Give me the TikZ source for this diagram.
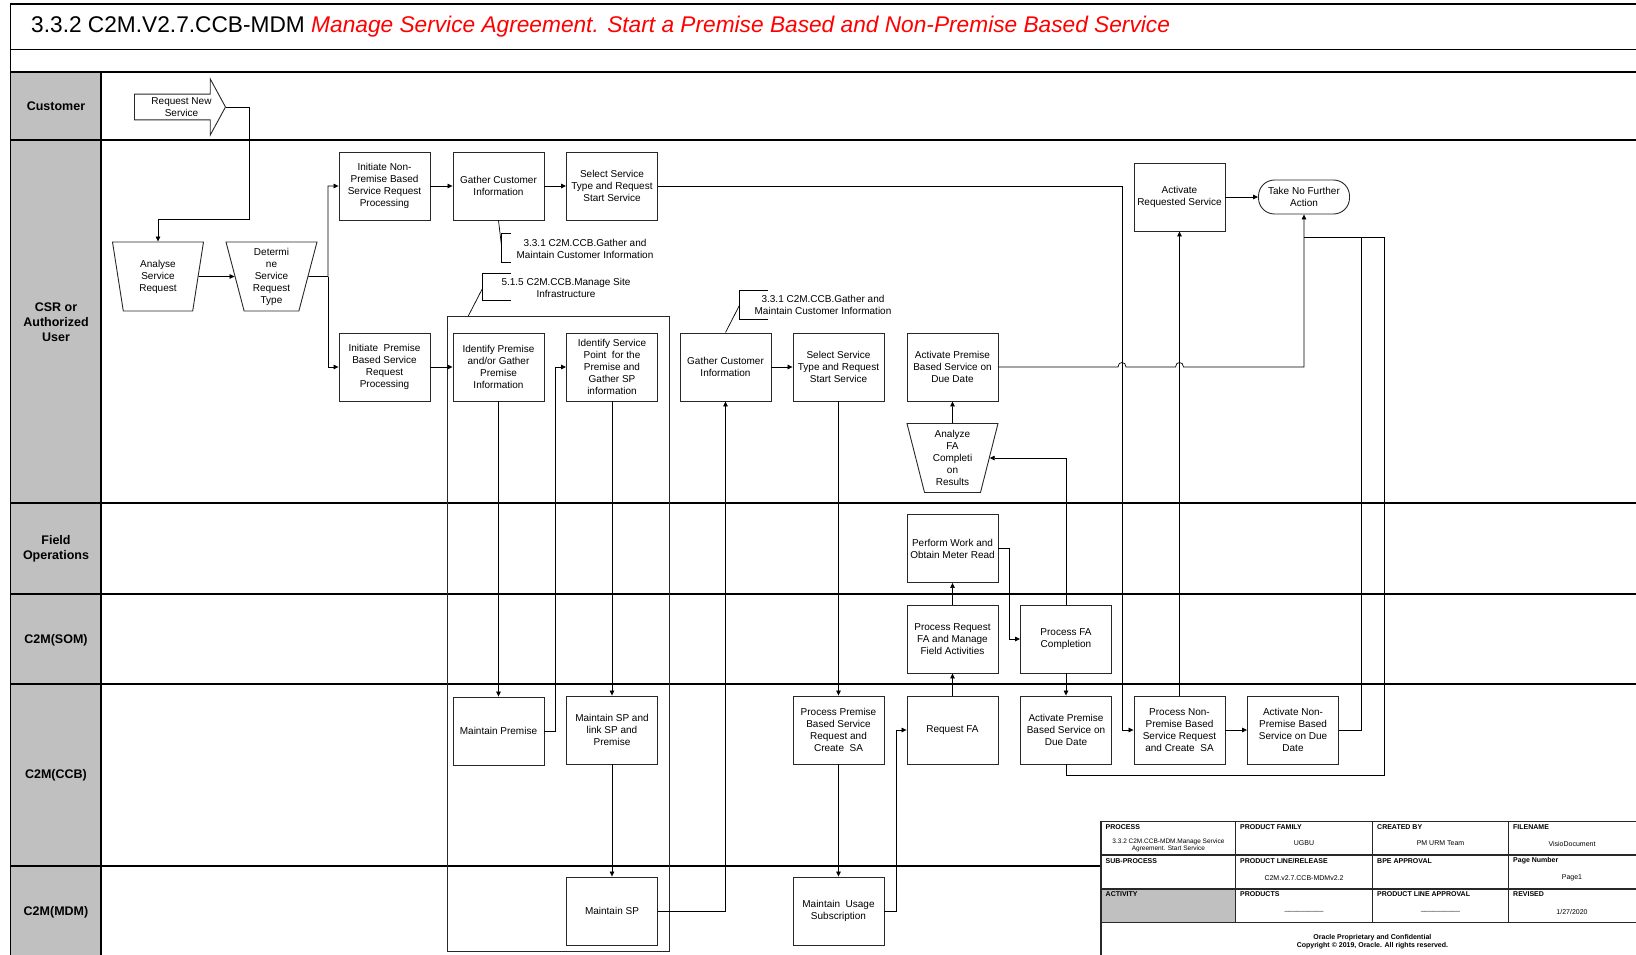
\documentclass[tikz,border=0pt]{standalone}
\usepackage{fontspec}
\setmainfont{Liberation Sans}
\usepackage{tikz}
\usetikzlibrary{shapes.geometric,shapes.arrows,arrows.meta}
\usepackage{xcolor}
\definecolor{lanegray}{RGB}{192,192,192}
\definecolor{boxline}{RGB}{40,40,40}

\begin{document}
\begin{tikzpicture}[x=1pt,y=-1pt,
  task/.style={draw=boxline,line width=.9pt,fill=white,minimum width=91pt,minimum height=68pt,inner sep=2pt,align=center,font=\fontsize{10}{12}\selectfont},
  decide/.style={trapezium,shape border rotate=180,trapezium angle=73,trapezium stretches body,draw=boxline,line width=.9pt,fill=white,minimum width=91pt,minimum height=69pt,inner sep=1pt,align=center,font=\fontsize{10}{12}\selectfont},
  flow/.style={line width=.7pt,-{Triangle[length=5pt,width=4.5pt]}},
  link/.style={line width=.7pt},
  lane/.style={align=center,font=\fontsize{12.5}{15}\bfseries\selectfont},
  note/.style={align=center,font=\fontsize{10}{12}\selectfont},
  head/.style={anchor=west,inner sep=0pt,font=\fontsize{7}{8}\bfseries\selectfont},
  val/.style={align=center,inner sep=0pt,font=\fontsize{7}{8}\selectfont}]
\useasboundingbox (0,0) rectangle (1636,955);
\fill[lanegray] (10.5,72) rectangle (101,955);
\draw[line width=1.2pt] (1636,4) -- (10.5,4) -- (10.5,955);
\draw[line width=1.2pt] (10.5,49.5) -- (1636,49.5);
\draw[line width=1.2pt] (10.5,72) -- (1636,72);
\draw[line width=1.2pt] (101,72) -- (101,955);
\draw[line width=1.2pt] (10.5,140) -- (1636,140);
\draw[line width=1.2pt] (10.5,503) -- (1636,503);
\draw[line width=1.2pt] (10.5,594) -- (1636,594);
\draw[line width=1.2pt] (10.5,684) -- (1636,684);
\draw[line width=1.2pt] (10.5,866) -- (1101,866);
\node[anchor=west,inner sep=0pt,font=\fontsize{22.7}{26}\selectfont] (title) at (31,27) {3.3.2 C2M.V2.7.CCB-MDM \textcolor{red}{\itshape Manage Service Agreement. Start a Premise Based and Non-Premise Based Service}};
\node[lane] (lcust) at (56,106) {Customer};
\node[lane] (lcsr) at (56,321.7) {CSR or\\Authorized\\User};
\node[lane] (lfield) at (56,549) {Field\\Operations};
\node[lane] (lsom) at (56,640) {C2M(SOM)};
\node[lane] (lccb) at (56,775) {C2M(CCB)};
\node[lane] (lmdm) at (56,912) {C2M(MDM)};
\node[draw=boxline,line width=.9pt,minimum width=221.5pt,minimum height=635pt,inner sep=0pt] (site) at (558.25,633.5) {};
\node[single arrow,draw=boxline,line width=.9pt,fill=white,single arrow head extend=14pt,single arrow tip angle=123,minimum height=91pt,minimum width=56pt,inner sep=2pt,align=center,font=\fontsize{10}{12}\selectfont,anchor=tip] (reqnew) at (226,107) {\hspace*{10pt}Request New\\\hspace*{10pt}Service};
\node[decide] (analyse) at (158,276.5) {Analyse\\Service\\Request};
\node[decide] (determine) at (271.5,276.5) {Determi\\ne\\Service\\Request\\Type};
\node[task] (initnp) at (384.5,186) {Initiate Non-\\Premise Based\\Service Request\\Processing};
\node[task] (gathcust) at (498.5,186) {Gather Customer\\Information};
\node[task] (selsvc) at (612,186) {Select Service\\Type and Request\\Start Service};
\node[task] (initprem) at (384.5,367) {Initiate~ Premise\\Based Service\\Request\\Processing};
\node[task] (idprem) at (498.5,367) {Identify Premise\\and/or Gather\\Premise\\Information};
\node[task] (idsp) at (612,367) {Identify Service\\Point~ for the\\Premise and\\Gather SP\\information};
\node[task] (gathcust2) at (725.5,367) {Gather Customer\\Information};
\node[task] (selsvc2) at (838.5,367) {Select Service\\Type and Request\\Start Service};
\node[task] (actprem) at (952.5,367) {Activate Premise\\Based Service on\\Due Date};
\node[decide] (anlfa) at (952.5,458) {Analyze\\FA\\Completi\\on\\Results};
\node[task] (perform) at (952.5,548.5) {Perform Work and\\Obtain Meter Read};
\node[task] (procreq) at (952.5,639) {Process Request\\FA and Manage\\Field Activities};
\node[task] (procfa) at (1066,639) {Process FA\\Completion};
\node[task] (mprem) at (498.5,731) {Maintain Premise};
\node[task] (mlink) at (612,730) {Maintain SP and\\link SP and\\Premise};
\node[task] (msp) at (612,911) {Maintain SP};
\node[task] (procprem) at (838.5,730) {Process Premise\\Based Service\\Request and\\Create~ SA};
\node[task] (musage) at (838.5,911) {Maintain~ Usage\\Subscription};
\node[task] (reqfa) at (952.5,730) {Request FA};
\node[task] (actprem2) at (1066,730) {Activate Premise\\Based Service on\\Due Date};
\node[task] (procnp) at (1179.5,730) {Process Non-\\Premise Based\\Service Request\\and Create~ SA};
\node[task] (actnp) at (1293,730) {Activate Non-\\Premise Based\\Service on Due\\Date};
\node[task] (actreq) at (1179.5,197) {Activate\\Requested Service};
\node[draw=boxline,line width=.9pt,rounded corners=16pt,minimum width=91pt,minimum height=34pt,inner sep=2pt,align=center,font=\fontsize{10}{12}\selectfont] (nofurther) at (1304,197) {Take No Further\\Action};
\node[note] (noteA) at (585,248.5) {3.3.1 C2M.CCB.Gather and\\Maintain Customer Information};
\draw[link] (511,233) -- (501.7,233) -- (501.7,262) -- (511,262);
\draw[link] (gathcust.south) -- (501.7,247.5);
\node[note] (noteB) at (566,287.5) {5.1.5 C2M.CCB.Manage Site\\Infrastructure};
\draw[link] (511,273) -- (482.7,273) -- (482.7,300.7) -- (511,300.7);
\coordinate (sitetop) at (468.3,316);
\draw[link] (482.7,288) -- (sitetop);
\node[note] (noteC) at (823,304.5) {3.3.1 C2M.CCB.Gather and\\Maintain Customer Information};
\draw[link] (767.5,290) -- (739.6,290) -- (739.6,319) -- (767.5,319);
\draw[link] (739.6,305) -- (gathcust2.north);
\draw[flow] (reqnew.tip) -- (249,107) -- (249,219) -| (analyse.north);
\draw[flow] (analyse.east) -- (determine.west);
\draw[flow] (determine.east) -- (328,276.5) |- (initnp.west);
\draw[flow] (328,276.5) |- (initprem.west);
\draw[flow] (initnp) -- (gathcust);
\draw[flow] (gathcust) -- (selsvc);
\draw[flow] (selsvc.east) -- (1122,186) |- (procnp.west);
\draw[flow] (initprem) -- (idprem);
\draw[flow] (idprem) -- (mprem);
\draw[flow] (mprem.east) -- (555,731) |- (idsp.west);
\draw[flow] (idsp) -- (mlink);
\draw[flow] (mlink) -- (msp);
\draw[flow] (msp.east) -| (gathcust2.south);
\draw[flow] (gathcust2) -- (selsvc2);
\draw[flow] (selsvc2) -- (procprem);
\draw[flow] (procprem) -- (musage);
\draw[flow] (musage.east) -- (896,911) |- (reqfa.west);
\draw[flow] (reqfa) -- (procreq);
\draw[flow] (procreq) -- (perform);
\draw[flow] (perform.east) -- (1009,548.5) |- (procfa.west);
\draw[flow] (procfa.north) |- (anlfa.east);
\draw[flow] (anlfa) -- (actprem);
\draw[flow] (procfa) -- (actprem2);
\draw[flow] (procnp) -- (actnp);
\draw[flow] (procnp) -- (actreq);
\draw[flow] (actreq) -- (nofurther);
\draw[flow] (actprem.east) -- (1118,367) .. controls (1118,361) and (1126,361) .. (1126,367) -- (1175.5,367) .. controls (1175.5,361) and (1183.5,361) .. (1183.5,367) -- (1304,367) -- (nofurther.south);
\draw[link] (actprem2.south) -- (1066,775) -- (1384,775) -- (1384,237) -- (1304,237);
\draw[link] (actnp.east) -- (1361,730) -- (1361,237);
\fill[lanegray] (1101,889) rectangle (1235.7,922.3);
\draw[line width=1.1pt,boxline] (1636,821.7) -- (1101,821.7) -- (1101,955);
\draw[line width=1.1pt,boxline] (1101,855) -- (1636,855);
\draw[line width=1.1pt,boxline] (1101,889) -- (1636,889);
\draw[line width=1.1pt,boxline] (1101,922.3) -- (1636,922.3);
\draw[line width=1.1pt,boxline] (1235.7,821.7) -- (1235.7,922.3);
\draw[line width=1.1pt,boxline] (1372.4,821.7) -- (1372.4,922.3);
\draw[line width=1.1pt,boxline] (1508.7,821.7) -- (1508.7,922.3);
\node[head] (hprocess) at (1105.5,827) {PROCESS};
\node[head] (hfamily) at (1240,827) {PRODUCT FAMILY};
\node[head] (hcreated) at (1377,827) {CREATED BY};
\node[head] (hfile) at (1513,827) {FILENAME};
\node[head] (hsub) at (1105.5,861) {SUB-PROCESS};
\node[head] (hline) at (1240,861) {PRODUCT LINE/RELEASE};
\node[head] (hbpe) at (1377,861) {BPE APPROVAL};
\node[head] (hpage) at (1513,861) {Page Number};
\node[head] (hact) at (1105.5,894) {ACTIVITY};
\node[head] (hprod) at (1240,894) {PRODUCTS};
\node[head] (hplapp) at (1377,894) {PRODUCT LINE APPROVAL};
\node[head] (hrev) at (1513,894) {REVISED};
\node[val,font=\fontsize{6.5}{7.5}\selectfont] (vprocess) at (1168.4,845.5) {3.3.2 C2M.CCB-MDM.Manage Service\\Agreement. Start Service};
\node[val] (vfamily) at (1304,843.5) {UGBU};
\node[val] (vcreated) at (1440.5,843.5) {PM URM Team};
\node[val] (vfile) at (1572,843.5) {VisioDocument};
\node[val] (vline) at (1304,878) {C2M.v2.7.CCB-MDMv2.2};
\node[val] (vpage) at (1572,878) {Page1};
\node[val] (vprod) at (1304,911) {\_\_\_\_\_\_\_\_\_\_};
\node[val] (vplapp) at (1440.5,911) {\_\_\_\_\_\_\_\_\_\_};
\node[val] (vrev) at (1572,912) {1/27/2020};
\node[val,font=\fontsize{7}{8}\bfseries\selectfont] (footer) at (1372.4,941.5) {Oracle Proprietary and Confidential\\Copyright © 2019, Oracle. All rights reserved.};
\end{tikzpicture}
\end{document}
